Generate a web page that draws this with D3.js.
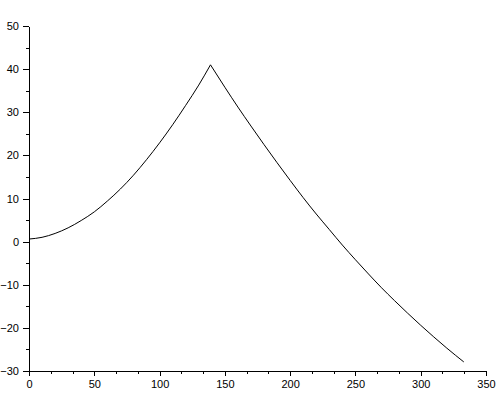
<!DOCTYPE html>
<html><head><meta charset="utf-8">
<script src="https://cdn.jsdelivr.net/npm/d3@7"></script>
<style>body{margin:0;background:#fff}svg{display:block}</style>
</head><body>
<svg id="c" width="500" height="400"></svg>
<script>
// rising branch
const xsUp = [0,10,20,30,40,50,60,70,80,90,100,110,120,130,139];
const ysUp = [0.6,1.0,1.9,3.2,4.9,6.9,9.4,12.2,15.4,19.0,22.9,27.1,31.6,36.3,41.0];
// falling branch
const xsDown = [139,150,160,170,180,190,200,210,220,230,240,250,260,270,280,290,300,310,320,333];
const ysDown = [41.0,35.8,31.2,26.8,22.5,18.3,14.2,10.2,6.4,2.8,-0.8,-4.2,-7.5,-10.7,-13.7,-16.6,-19.4,-22.1,-24.7,-27.9];
const xTicks = [0,50,100,150,200,250,300,350];
const yTicks = [-30,-20,-10,0,10,20,30,40,50];

const svg = d3.select('#c');
const x = d3.scaleLinear().domain([0,350]).range([29,486]);
const y = d3.scaleLinear().domain([-30,50]).range([371,26]);

const xMinor = d3.range(0,351,50/3).filter(v=>!xTicks.some(t=>Math.abs(t-v)<1e-6));
const yMinor = d3.range(-30,51,5).filter(v=>!yTicks.includes(v));

function styleAxis(g){
  g.selectAll('.domain').attr('stroke','#000').attr('shape-rendering','crispEdges');
  g.selectAll('line').attr('stroke','#000').attr('shape-rendering','crispEdges');
  g.selectAll('text').attr('fill','#000').style('font-family','"Liberation Sans", Arial, sans-serif').style('font-size','11px');
}

svg.append('g').attr('transform',`translate(0,${y(-30)})`)
  .call(d3.axisBottom(x).tickValues(xMinor).tickFormat('').tickSize(3).tickSizeOuter(0))
  .call(styleAxis);
svg.append('g').attr('transform',`translate(0,${y(-30)})`)
  .call(d3.axisBottom(x).tickValues(xTicks).tickFormat(d3.format('d')).tickSize(5).tickSizeOuter(0).tickPadding(4))
  .call(styleAxis);
svg.append('g').attr('transform',`translate(${x(0)},0)`)
  .call(d3.axisLeft(y).tickValues(yMinor).tickFormat('').tickSize(3).tickSizeOuter(0))
  .call(styleAxis);
svg.append('g').attr('transform',`translate(${x(0)},0)`)
  .call(d3.axisLeft(y).tickValues(yTicks).tickFormat(d3.format('d')).tickSize(6).tickSizeOuter(0).tickPadding(4))
  .call(styleAxis);

const line = d3.line().x(d=>x(d[0])).y(d=>y(d[1])).curve(d3.curveMonotoneX);
[[xsUp,ysUp],[xsDown,ysDown]].forEach(([xa,ya])=>{
  svg.append('path').datum(xa.map((v,i)=>[v,ya[i]]))
    .attr('fill','none').attr('stroke','#000').attr('stroke-width',1)
    .attr('d', line);
});
</script>
</body></html>
